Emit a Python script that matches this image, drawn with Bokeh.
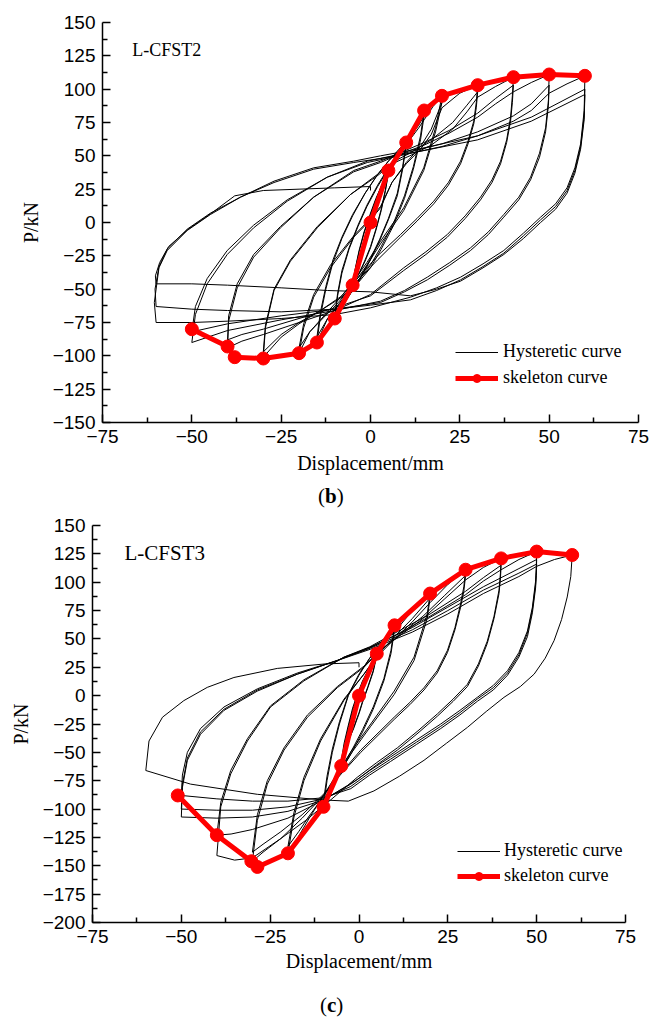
from bokeh.plotting import figure
from bokeh.models import Range1d, FixedTicker, Label, Legend, LegendItem, Div
from bokeh.embed import file_html
from bokeh.resources import INLINE

SERIF = "Liberation Serif"
SANS = "Liberation Sans"

# ---------------- shared axis ticks ----------------
X_TICKS = [-75, -50, -25, 0, 25, 50, 75]
X_MINOR = [-62.5, -37.5, -12.5, 12.5, 37.5, 62.5]
B_Y_TICKS = [-150, -125, -100, -75, -50, -25, 0, 25, 50, 75, 100, 125, 150]
B_Y_MINOR = [-137.5, -112.5, -87.5, -62.5, -37.5, -12.5, 12.5, 37.5, 62.5, 87.5, 112.5, 137.5]
C_Y_TICKS = [-200, -175, -150, -125, -100, -75, -50, -25, 0, 25, 50, 75, 100, 125, 150]
C_Y_MINOR = [-187.5, -162.5, -137.5, -112.5, -87.5, -62.5, -37.5, -12.5, 12.5, 37.5, 62.5, 87.5, 112.5, 137.5]

# ---------------- (b) L-CFST2 ----------------
B_SKEL_X = [-50, -40, -38, -30, -20, -15, -10, -5, 0, 5, 10, 15, 20, 30, 40, 50, 60]
B_SKEL_Y = [-80, -93, -101, -102, -98, -90, -72, -47, 0, 39, 60, 84, 95, 103, 109, 111, 110]

B_INIT_X = [0, 1, 2.5, 4, 5]
B_INIT_Y = [0, 8, 20, 31, 38]
B_C5A_X = [5, 4.2, 3, 1.5, 0, -1.5, -3, -4.2, -5, -4.3, -3.2, -1.8, 0, 1.5, 3, 4.2, 5]
B_C5A_Y = [38, 25, 10, -5, -18, -28, -37, -43, -48, -36, -22, -8, 6, 17, 27, 33, 37]
B_C5B_X = [5, 4.2, 3, 1.5, 0, -1.5, -3, -4.2, -5, -4.3, -3.2, -1.8, 0, 1.5, 3, 4.2, 5]
B_C5B_Y = [37, 24, 9, -6, -19, -29, -37, -43, -46, -35, -21, -7, 7, 18, 27, 33, 36]
B_C10A_X = [5, 7, 10, 9, 7.5, 5, 2.5, 0, -3, -6, -8.5, -10, -9.2, -8, -6, -3.5, -1, 2, 5, 8, 10]
B_C10A_Y = [36, 48, 60, 42, 22, 3, -13, -27, -42, -55, -65, -72, -55, -38, -20, -3, 12, 27, 40, 51, 58]
B_C10B_X = [10, 9, 7.5, 5, 2.5, 0, -3, -6, -8.5, -10, -9.2, -8, -6, -3.5, -1, 2, 5, 8, 10]
B_C10B_Y = [58, 40, 20, 2, -14, -28, -43, -55, -64, -70, -53, -36, -19, -2, 13, 28, 41, 51, 57]
B_C15A_X = [10, 12.5, 15, 14, 12, 9.5, 6.5, 3, 0, -4, -8, -12, -15, -14, -12.5, -10.5, -8, -5, -1.5, 2, 5, 8, 11, 13.5, 15]
B_C15A_Y = [57, 70, 84, 65, 42, 20, 0, -18, -32, -45, -58, -72, -90, -70, -50, -30, -12, 5, 22, 36, 46, 55, 64, 73, 80]
B_C15B_X = [15, 14, 12, 9.5, 6.5, 3, 0, -4, -8, -12, -15, -14, -12.5, -10.5, -8, -5, -1.5, 2, 5, 8, 11, 13.5, 15]
B_C15B_Y = [80, 62, 40, 18, -2, -20, -34, -47, -59, -72, -86, -67, -48, -28, -11, 6, 22, 36, 46, 54, 62, 71, 77]
B_C20A_X = [15, 17.5, 20, 18.2, 14.9, 9.3, 2.8, -1, -5, -9, -13, -17, -20, -18.7, -15.9, -11.2, -4.7, 0, 2.8, 6, 10, 14, 17, 20]
B_C20A_Y = [77, 87, 95, 71, 41, 11, -14, -30, -45, -58, -70, -82, -98, -79, -56, -34, -11, 2, 11, 30, 45, 57, 70, 90]
B_C20B_X = [20, 18.2, 14.9, 9.3, 2.8, -1, -5, -9, -13, -17, -20, -18.7, -15.9, -11.2, -4.7, 0, 2.8, 6, 10, 14, 17, 20]
B_C20B_Y = [90, 68, 39, 9, -16, -32, -47, -60, -71, -82, -94, -76, -54, -32, -10, 3, 12, 30, 44, 55, 66, 86]
B_C30A_X = [20, 25, 30, 29.6, 28.9, 27.3, 25.2, 21.8, 17.7, 13, 8.4, 2, -3, -8, -14, -20, -25, -30, -29.4, -27, -22.4, -14.9, -5.6, 1.9, 6, 11, 17, 23, 27, 30]
B_C30A_Y = [86, 97, 103, 90, 76, 61, 46, 30, 16, 3, -9, -25, -40, -55, -66, -76, -86, -101, -79, -51, -29, -4, 21, 36, 45, 52, 62, 75, 88, 98]
B_C30B_X = [30, 29.6, 28.9, 27.3, 25.2, 21.8, 17.7, 13, 8.4, 2, -3, -8, -14, -20, -25, -30, -29.4, -27, -22.4, -14.9, -5.6, 1.9, 6, 11, 17, 23, 27, 30]
B_C30B_Y = [98, 86, 74, 59, 44, 28, 14, 1, -11, -28, -42, -56, -66, -75, -84, -97, -77, -50, -28, -3, 21, 35, 44, 50, 58, 70, 83, 94]
B_C40A_X = [30, 35, 40, 39.7, 39.2, 38.1, 36.4, 34, 30.8, 26.5, 21.5, 15.5, 9.3, 0, -10, -20, -30, -36, -40, -39.7, -37.3, -32.7, -25.2, -15.9, -4.7, 2.8, 8, 15, 22, 30, 35, 40]
B_C40A_Y = [94, 102, 109, 95, 79, 62, 46, 32, 19, 5, -9, -22, -34, -54, -66, -75, -84, -89, -94, -74, -49, -26, -4, 19, 39, 46, 52, 60, 69, 82, 93, 103]
B_C40B_X = [40, 39.7, 39.2, 38.1, 36.4, 34, 30.8, 26.5, 21.5, 15.5, 9.3, 0, -10, -20, -30, -36, -40, -39.7, -37.3, -32.7, -25.2, -15.9, -4.7, 2.8, 8, 15, 22, 30, 35, 40]
B_C40B_Y = [103, 90, 76, 60, 44, 30, 17, 3, -11, -24, -36, -55, -64, -72, -80, -84, -88, -70, -46, -24, -3, 19, 38, 45, 51, 58, 67, 79, 89, 98]
B_C50A_X = [40, 45, 50, 49.8, 49, 47.3, 44.8, 41.5, 37.3, 33, 28, 22.2, 15.9, 9.5, 2.8, -10, -25, -40, -50, -49, -45.7, -40.1, -32.7, -23.3, -12.1, -0.9, 8, 20, 30, 40, 45, 50]
B_C50A_Y = [98, 105, 111, 92, 71, 52, 34, 19, 6, -7, -19, -30, -41, -51, -59, -66, -73, -81, -90, -69, -46, -24, -4, 16, 34, 46, 51, 59, 68, 80, 89, 103]
B_C50B_X = [50, 49.8, 49, 47.3, 44.8, 41.5, 37.3, 33, 28, 22.2, 15.9, 9.5, 2.8, -10, -25, -40, -50, -49, -45.7, -40.1, -32.7, -23.3, -12.1, -0.9, 8, 20, 30, 40, 45, 50]
B_C50B_Y = [103, 88, 68, 49, 32, 17, 4, -9, -21, -32, -43, -52, -60, -65, -70, -76, -82, -63, -42, -21, -2, 17, 34, 45, 50, 57, 65, 76, 84, 97]
B_C60A_X = [50, 55, 60, 59.8, 58.8, 57.2, 55, 51.8, 47.6, 42.8, 37.3, 31.5, 25.2, 18.5, 11.2, 0, -10, -25, -40, -50, -60, -60.5, -59.2, -56.9, -51.3, -44.8, -36.4, -27, -15.9, -4.7, 2.8, 15, 30, 45, 60]
B_C60A_Y = [97, 104, 110, 84, 59, 41, 26, 14, 4, -8, -21, -31, -41, -49, -56, -64, -69, -72, -74, -75, -75, -60, -34, -21, -6, 6, 19, 31, 41, 46, 50, 56, 65, 79, 100]
B_C60B_X = [60, 59.8, 58.8, 57.2, 55, 51.8, 47.6, 42.8, 37.3, 31.5, 25.2, 18.5, 11.2, 0, -10, -25, -40, -50, -60, -60.3, -59.2, -56.9, -51.3, -44.8, -36.4, -27, -15.9, -4.7, 2.8, 15, 30, 45, 60]
B_C60B_Y = [100, 80, 57, 39, 24, 12, 2, -10, -23, -33, -43, -51, -58, -62, -65, -67, -66, -65, -63, -50, -33, -20, -5, 7, 19, 30, 40, 45, 48, 54, 62, 76, 96]
B_C60C_X = [60, 59.8, 58.8, 57.2, 55, 51.8, 47.6, 42.8, 37.3, 31.5, 25.2, 18.5, 11.2, 0, -12, -25, -40, -50, -60, -60.2, -59, -56.5, -51, -44.5, -38, -30, -20, -10, 0, 0]
B_C60C_Y = [96, 77, 55, 37, 22, 10, 0, -12, -24, -34, -44, -50, -55, -52, -51, -49, -47, -46, -46, -40, -30, -18, -5, 7, 20, 24, 25, 26, 27, 24]

B_LOOPS_X = [B_INIT_X, B_C5A_X, B_C5B_X, B_C10A_X, B_C10B_X, B_C15A_X, B_C15B_X, B_C20A_X, B_C20B_X,
             B_C30A_X, B_C30B_X, B_C40A_X, B_C40B_X, B_C50A_X, B_C50B_X, B_C60A_X, B_C60B_X, B_C60C_X]
B_LOOPS_Y = [B_INIT_Y, B_C5A_Y, B_C5B_Y, B_C10A_Y, B_C10B_Y, B_C15A_Y, B_C15B_Y, B_C20A_Y, B_C20B_Y,
             B_C30A_Y, B_C30B_Y, B_C40A_Y, B_C40B_Y, B_C50A_Y, B_C50B_Y, B_C60A_Y, B_C60B_Y, B_C60C_Y]

# ---------------- (c) L-CFST3 ----------------
C_SKEL_X = [-51, -40, -30.3, -28.6, -20, -10, -5, 0, 5, 10, 20, 30, 40, 50, 60]
C_SKEL_Y = [-88, -123, -146, -151, -139, -98, -62, 0, 37, 62, 90, 111, 121, 127, 124]

C_INIT_X = [0, 1.5, 3, 5]
C_INIT_Y = [0, 12, 24, 37]
C_C5A_X = [5, 4, 2.5, 1, 0, -1.5, -3, -4, -5, -4.2, -3, -1.8, -0.5, 1, 2.5, 4, 5]
C_C5A_Y = [37, 22, 8, -5, -15, -28, -40, -50, -62, -45, -28, -13, 0, 12, 22, 30, 35]
C_C5B_X = [5, 4, 2.5, 1, 0, -1.5, -3, -4, -5, -4.2, -3, -1.8, -0.5, 1, 2.5, 4, 5]
C_C5B_Y = [35, 21, 7, -6, -16, -29, -40, -49, -58, -42, -26, -11, 1, 13, 22, 30, 34]
C_C10A_X = [5, 7.5, 10, 9, 7, 4, 1, -2, -5, -8, -10, -9, -7.5, -5.5, -3, 0, 3, 6, 8, 10]
C_C10A_Y = [34, 48, 62, 40, 15, -10, -30, -48, -65, -82, -98, -75, -50, -25, 0, 18, 33, 45, 52, 58]
C_C10B_X = [10, 9, 7, 4, 1, -2, -5, -8, -10, -9, -7.5, -5.5, -3, 0, 3, 6, 8, 10]
C_C10B_Y = [58, 37, 13, -12, -32, -50, -66, -80, -93, -71, -47, -23, 1, 19, 33, 44, 51, 56]
C_C20A_X = [10, 15, 20, 19.2, 15.5, 9.9, 3.3, -2, -6, -10, -14, -17, -20, -18.3, -15.5, -10.8, -4.2, 1.4, 5, 10, 15, 20]
C_C20A_Y = [56, 75, 90, 72, 34, 4, -25, -48, -68, -88, -108, -124, -139, -107, -75, -40, -4, 19, 35, 52, 68, 86]
C_C20B_X = [20, 19.2, 15.5, 9.9, 3.3, -2, -6, -10, -14, -17, -20, -18.3, -15.5, -10.8, -4.2, 1.4, 5, 10, 15, 20]
C_C20B_Y = [86, 68, 31, 1, -27, -50, -70, -89, -106, -120, -133, -103, -72, -38, -3, 19, 34, 50, 65, 82]
C_C30A_X = [20, 25, 30, 29.5, 28.6, 27, 24.9, 22, 18.3, 14.3, 9.9, 0.5, -5, -10, -16, -22, -27, -30, -28.6, -25.8, -21.1, -14.5, -6.1, 1.4, 6, 12, 18, 24, 30]
C_C30A_Y = [82, 98, 111, 96, 81, 60, 40, 22, 7, -6, -19, -48, -68, -88, -108, -126, -138, -146, -110, -78, -48, -19, 7, 25, 40, 55, 70, 88, 106]
C_C30B_X = [30, 29.5, 28.6, 27, 24.9, 22, 18.3, 14.3, 9.9, 0.5, -5, -10, -16, -22, -27, -30, -28.6, -25.8, -21.1, -14.5, -6.1, 1.4, 6, 12, 18, 24, 30]
C_C30B_Y = [106, 92, 78, 58, 38, 20, 5, -8, -21, -50, -69, -87, -105, -120, -131, -138, -105, -75, -46, -17, 8, 26, 40, 54, 68, 85, 102]
C_C40A_X = [30, 35, 40, 39.8, 39.4, 38, 36.1, 33.6, 30.5, 26.5, 22.1, 16.6, 10.8, 5, -0.5, -8, -15, -22, -30, -35, -40, -38.9, -36.1, -31.4, -24.9, -15.5, -4.2, 3, 10, 20, 30, 35, 40]
C_C40A_Y = [102, 113, 121, 108, 93, 70, 48, 28, 10, -3, -16, -31, -46, -59, -72, -92, -110, -126, -143, -145, -141, -98, -69, -40, -10, 13, 34, 43, 55, 72, 92, 104, 115]
C_C40B_X = [40, 39.8, 39.4, 38, 36.1, 33.6, 30.5, 26.5, 22.1, 16.6, 10.8, 5, -0.5, -10, -20, -30, -36, -40, -38.9, -36.1, -31.4, -24.9, -15.5, -4.2, 3, 10, 20, 30, 35, 40]
C_C40B_Y = [115, 103, 90, 68, 46, 26, 8, -5, -18, -33, -48, -61, -74, -92, -108, -118, -122, -123, -94, -66, -38, -9, 14, 34, 42, 53, 70, 89, 101, 111]
C_C50A_X = [40, 45, 50, 49.9, 49.7, 48.8, 47.4, 45, 41.8, 37.8, 33.3, 28.4, 23, 16.2, 8.9, 3, -2.3, -10, -20, -30, -40, -50, -49.7, -48.3, -44.6, -38, -28.6, -17.3, -6.1, 3.3, 15, 25, 35, 45, 50]
C_C50A_Y = [111, 120, 127, 114, 101, 78, 57, 38, 22, 9, -1.5, -13, -25, -39, -54, -66, -78, -92, -102, -107, -108, -107, -81, -57, -34, -13, 4, 19, 31, 43, 60, 78, 96, 112, 120]
C_C50B_X = [50, 49.9, 49.7, 48.8, 47.4, 45, 41.8, 37.8, 33.3, 28.4, 23, 16.2, 8.9, 3, -2.3, -10, -20, -30, -40, -50, -49.7, -48.3, -44.6, -38, -28.6, -17.3, -6.1, 3.3, 15, 25, 35, 45, 50]
C_C50B_Y = [120, 109, 98, 76, 55, 36, 20, 7, -3, -15, -27, -41, -56, -68, -80, -91, -98, -101, -101, -100, -78, -55, -32, -12, 5, 19, 31, 42, 58, 75, 93, 108, 116]
C_C50C_X = [50, 49.9, 49.7, 48.8, 47.4, 45, 41.8, 37.8, 33.3, 28.4, 23, 16.2, 8.9, 3, -2.3, -10, -20, -30, -40, -50, -49.7, -48.3, -44.6, -38, -28.6, -17.3, -6.1, 3.3, 15, 25, 35, 45, 50]
C_C50C_Y = [116, 106, 95, 73, 52, 34, 18, 5, -5, -17, -29, -43, -58, -70, -82, -90, -93, -93, -91, -88, -70, -50, -29, -10, 6, 20, 31, 41, 56, 72, 90, 105, 114]
C_C60_X = [50, 55, 60, 59.6, 58.6, 57, 54.9, 52.4, 49.3, 45.4, 40.8, 35.8, 30.5, 24.6, 18.3, 11.4, 4.2, -3, -10, -28.6, -47.4, -60, -59.1, -55.3, -49.3, -42.7, -35.2, -23, -9.4, 0, 0]
C_C60_Y = [114, 120, 124, 105, 87, 67, 48.5, 33, 19, 8, -1.5, -14, -28, -42, -57, -71, -84, -93, -92, -87, -78, -66, -40, -19, -4.4, 7.3, 16, 24, 28, 29, 25]

C_LOOPS_X = [C_INIT_X, C_C5A_X, C_C5B_X, C_C10A_X, C_C10B_X, C_C20A_X, C_C20B_X, C_C30A_X, C_C30B_X,
             C_C40A_X, C_C40B_X, C_C50A_X, C_C50B_X, C_C50C_X, C_C60_X]
C_LOOPS_Y = [C_INIT_Y, C_C5A_Y, C_C5B_Y, C_C10A_Y, C_C10B_Y, C_C20A_Y, C_C20B_Y, C_C30A_Y, C_C30B_Y,
             C_C40A_Y, C_C40B_Y, C_C50A_Y, C_C50B_Y, C_C50C_Y, C_C60_Y]


def make_panel(width, height, borders, y_lo, y_hi, y_ticks, y_minor,
               loops_x, loops_y, skel_x, skel_y, name, name_pos, name_size,
               legend_loc, legend_spacing, legend_standoff, xlabel_standoff):
    left, right, top, bottom = borders
    p = figure(width=width, height=height, output_backend="svg", toolbar_location=None,
               x_range=Range1d(-75, 75), y_range=Range1d(y_lo, y_hi),
               min_border_left=left, min_border_right=right,
               min_border_top=top, min_border_bottom=bottom)
    p.outline_line_color = None
    p.xgrid.visible = False
    p.ygrid.visible = False
    p.background_fill_color = "white"
    p.border_fill_color = "white"

    for ax in (p.xaxis[0], p.yaxis[0]):
        ax.axis_line_width = 1.5
        ax.axis_line_color = "black"
        ax.major_tick_line_width = 1.5
        ax.minor_tick_line_width = 1.5
        ax.major_tick_line_color = "black"
        ax.minor_tick_line_color = "black"
        ax.major_tick_in = 8
        ax.major_tick_out = 0
        ax.minor_tick_in = 5
        ax.minor_tick_out = 0
        ax.major_label_text_font = SANS
        ax.major_label_text_font_size = "19px"
        ax.major_label_text_color = "black"
        ax.axis_label_text_font = SERIF
        ax.axis_label_text_font_size = "20px"
        ax.axis_label_text_font_style = "normal"
        ax.axis_label_text_color = "black"
        ax.major_label_standoff = 7

    p.xaxis.ticker = FixedTicker(ticks=X_TICKS, minor_ticks=X_MINOR)
    p.yaxis.ticker = FixedTicker(ticks=y_ticks, minor_ticks=y_minor)
    p.xaxis.axis_label = "Displacement/mm"
    p.yaxis.axis_label = "P/kN"
    p.xaxis.axis_label_standoff = xlabel_standoff
    p.yaxis.axis_label_standoff = 8

    r_h = p.multi_line(xs=loops_x, ys=loops_y, line_color="black", line_width=1)
    r_sl = p.line(skel_x, skel_y, line_color="#ff0000", line_width=5)
    r_sm = p.scatter(skel_x, skel_y, size=13, fill_color="#ff0000", line_color="#ff0000")

    p.add_layout(Label(x=name_pos[0], y=name_pos[1], text=name, text_font=SERIF,
                       text_font_size=name_size, text_color="black",
                       text_baseline="alphabetic"))

    legend = Legend(items=[LegendItem(label="Hysteretic curve", renderers=[r_h]),
                           LegendItem(label="skeleton curve", renderers=[r_sl, r_sm])],
                    location=legend_loc, orientation="vertical")
    legend.border_line_color = None
    legend.background_fill_alpha = 0
    legend.padding = 0
    legend.margin = 0
    legend.spacing = legend_spacing
    legend.glyph_width = 43
    legend.glyph_height = 20
    legend.label_height = 20
    legend.label_standoff = legend_standoff
    legend.label_text_font = SERIF
    legend.label_text_font_size = "18px"
    legend.label_text_color = "black"
    p.add_layout(legend)
    return p


def caption(letter, height, pad_left, pad_top):
    html = ('<div style="font-family:\'Liberation Serif\';font-size:21px;line-height:24px;'
            'color:black;margin:0;padding-left:%dpx;padding-top:%dpx;white-space:nowrap;">'
            '(<b>%s</b>)</div>' % (pad_left, pad_top, letter))
    return Div(text=html, width=649, height=height, margin=0)


p1 = make_panel(649, 484, (102, 11, 22, 62), -150, 150, B_Y_TICKS, B_Y_MINOR,
                B_LOOPS_X, B_LOOPS_Y, B_SKEL_X, B_SKEL_Y,
                "L-CFST2", (-66.7, 129.5), "18px", (353, 33.7), 5, 5, 6)
cap_b = caption("b", 28, 318, 0)
p2 = make_panel(649, 473, (92, 24, 13, 63), -200, 150, C_Y_TICKS, C_Y_MINOR,
                C_LOOPS_X, C_LOOPS_Y, C_SKEL_X, C_SKEL_Y,
                "L-CFST3", (-66.0, 125.5), "21px", (365, 36), 4, 4, 4)
cap_c = caption("c", 32, 320, 8)

open("out.html", "w").write(file_html([p1, cap_b, p2, cap_c], INLINE))
